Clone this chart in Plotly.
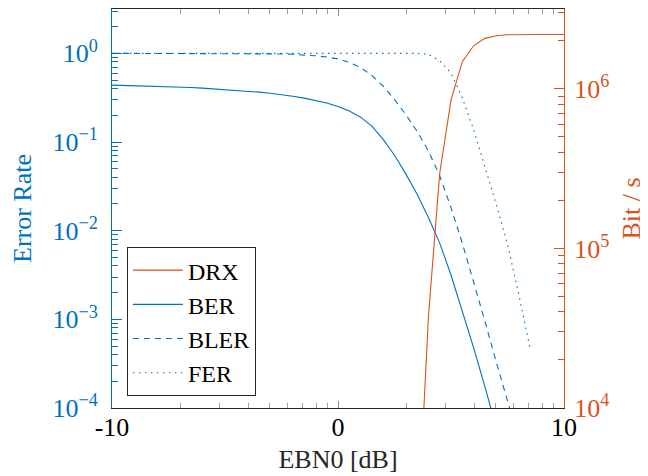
import plotly.graph_objects as go
import math

# ---- data ----
EBN0 = [-10 + 0.5 * i for i in range(41)]

BER = [0.4385, 0.4355, 0.4325, 0.4295, 0.4256, 0.4217, 0.4169, 0.4111, 0.4055, 0.3981,
       0.3908, 0.3828, 0.3741, 0.3648, 0.3540, 0.3420, 0.3281, 0.3126, 0.2951, 0.2754,
       0.2512, 0.2239, 0.1905, 0.1514, 0.1072, 0.0708, 0.0437, 0.0257, 0.0141, 0.00724,
       0.00316, 0.00123, 4.79e-4, 1.74e-4, 6.0e-5,
       None, None, None, None, None, None]

BLER = [1.0, 1.0, 1.0, 1.0, 1.0, 1.0, 1.0, 1.0, 1.0, 1.0, 1.0, 1.0, 1.0,
        0.995, 0.991, 0.984, 0.975, 0.959, 0.938, 0.908, 0.865, 0.794, 0.692, 0.562,
        0.427, 0.302, 0.204, 0.132, 0.0794, 0.0417, 0.0182, 0.00724, 0.00269, 9.55e-4,
        3.31e-4, 1.20e-4, 4.4e-5, None, None, None, None]

FER = [1.0] * 28 + [0.977, 0.822, 0.603, 0.316, 0.138, 0.0537, 0.0200, 0.00708,
                    0.00191, 4.68e-4, None, None, None]

DRX = [None] * 27 + [1.4e3, 3.7e4, 2.95e5, 8.5e5, 1.48e6, 1.86e6, 2.07e6, 2.15e6,
                     2.18e6, 2.19e6, 2.19e6, 2.19e6, 2.19e6, 2.19e6]

X_TICKS = [-10, 0, 10]
X_TICK_LABELS = ["-10", "0", "10"]
Y_TICKS = [1e-4, 1e-3, 1e-2, 1e-1, 1]
Y_TICK_LABELS = ["10<sup>−4</sup>", "10<sup>−3</sup>", "10<sup>−2</sup>",
                 "10<sup>−1</sup>", "10<sup>0</sup>"]
Y2_TICKS = [1e4, 1e5, 1e6]
Y2_TICK_LABELS = ["10<sup>4</sup>", "10<sup>5</sup>", "10<sup>6</sup>"]

BLUE = "#0072BD"
ORANGE = "#D95319"
FONT = "'Liberation Serif', serif"
TITLE_SIZE = 26
TICK_SIZE = 26

x_minor = [b + 10 * math.log10(k) for b in (-10, 0) for k in range(2, 10)]
y_minor = [k * 10 ** e for e in range(-4, 1) for k in range(2, 10) if k * 10 ** e < 3.2]
y2_minor = [k * 10 ** e for e in range(4, 7) for k in range(2, 10) if k * 10 ** e < 3.2e6]

fig = go.Figure()
fig.add_trace(go.Scatter(x=EBN0, y=DRX, name="DRX", yaxis="y2", mode="lines",
                         line=dict(color=ORANGE, width=1.1)))
fig.add_trace(go.Scatter(x=EBN0, y=BER, name="BER", mode="lines",
                         line=dict(color=BLUE, width=1.1)))
fig.add_trace(go.Scatter(x=EBN0, y=BLER, name="BLER", mode="lines",
                         line=dict(color=BLUE, width=1.1, dash="6px,5px")))
fig.add_trace(go.Scatter(x=EBN0, y=FER, name="FER", mode="lines",
                         line=dict(color=BLUE, width=1.1, dash="1.5px,4.5px")))

# page body adds an 8px margin, so the figure is 8px smaller in each direction
fig.update_layout(
    width=640, height=468,
    margin=dict(l=104, r=84, t=1, b=68, autoexpand=False),
    paper_bgcolor="white", plot_bgcolor="white",
    font=dict(family=FONT, size=TICK_SIZE, color="black"),
    showlegend=True,
    legend=dict(x=0.033, y=0.03, xanchor="left", yanchor="bottom",
                bgcolor="white", bordercolor="#262626", borderwidth=1,
                font=dict(size=24, family=FONT), tracegroupgap=0,
                itemwidth=50),
    xaxis=dict(range=[-10, 10], tickvals=X_TICKS, ticktext=X_TICK_LABELS,
               ticks="inside", ticklen=7, tickcolor="#8c8c8c", tickwidth=1,
               showline=True, linecolor="#262626", linewidth=1, mirror="ticks",
               showgrid=False, zeroline=False, ticklabelstandoff=-4, automargin=False,
               tickfont=dict(size=TICK_SIZE, color="black", family=FONT),
               minor=dict(tickmode="array", tickvals=x_minor, ticks="inside",
                          ticklen=5, tickcolor="#a0a0a0", showgrid=False),
               title=dict(text="EBN0 [dB]",
                          font=dict(size=TITLE_SIZE, color="#262626", family=FONT),
                          standoff=8)),
    yaxis=dict(type="log", range=[-4, 0.5], tickvals=Y_TICKS, ticktext=Y_TICK_LABELS,
               ticks="inside", ticklen=10, tickcolor=BLUE, tickwidth=1,
               showline=True, linecolor=BLUE, linewidth=1, automargin=False,
               showgrid=False, zeroline=False, ticklabelstandoff=8,
               tickfont=dict(size=TICK_SIZE, color=BLUE, family=FONT),
               minor=dict(tickmode="array", tickvals=y_minor, ticks="inside",
                          ticklen=6, tickcolor=BLUE, showgrid=False),
               title=dict(text="Error Rate",
                          font=dict(size=TITLE_SIZE, color=BLUE, family=FONT),
                          standoff=14)),
    yaxis2=dict(type="log", range=[4, 6.5], overlaying="y", side="right",
                tickvals=Y2_TICKS, ticktext=Y2_TICK_LABELS, automargin=False,
                ticks="inside", ticklen=10, tickcolor=ORANGE, tickwidth=1,
                showline=True, linecolor=ORANGE, linewidth=1,
                showgrid=False, zeroline=False, ticklabelstandoff=4,
                tickfont=dict(size=TICK_SIZE, color=ORANGE, family=FONT),
                minor=dict(tickmode="array", tickvals=y2_minor, ticks="inside",
                           ticklen=6, tickcolor=ORANGE, showgrid=False),
                title=dict(text="Bit / s",
                           font=dict(size=TITLE_SIZE, color=ORANGE, family=FONT),
                           standoff=13)),
)

fig.write_html("out.html")
